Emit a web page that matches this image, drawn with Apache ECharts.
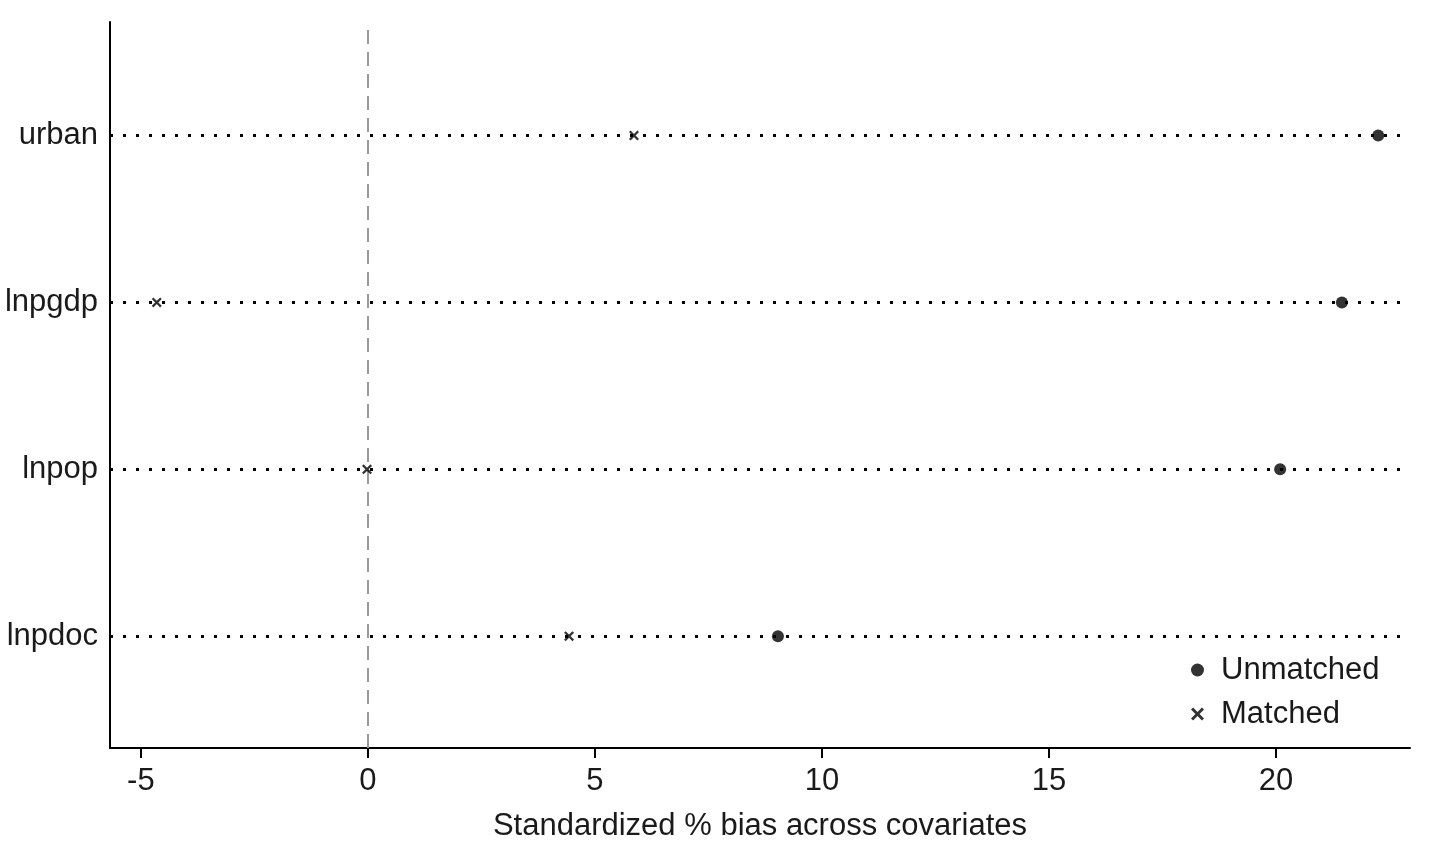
<!DOCTYPE html>
<html><head><meta charset="utf-8">
<script src="https://cdn.jsdelivr.net/npm/echarts@6/dist/echarts.min.js"></script>
<style>html,body{margin:0;padding:0;background:#fff}#c{width:1429px;height:854px}</style>
</head><body><div id="c"></div>
<script>
var categories = ['lnpdoc', 'lnpop', 'lnpgdp', 'urban'];
var unmatched = [9.03, 20.09, 21.45, 22.25];
var matched = [4.43, -0.02, -4.65, 5.86];
var xTicks = [-5, 0, 5, 10, 15, 20];
var xTitle = 'Standardized % bias across covariates';

var FONT = 'Liberation Sans, Arial, sans-serif';
var crossPath = 'path://M0,1.6 L1.6,0 L5,3.4 L8.4,0 L10,1.6 L6.6,5 L10,8.4 L8.4,10 L5,6.6 L1.6,10 L0,8.4 L3.4,5 Z';
var yPos = categories.map(function (c, i) { return i + 1; });

var chart = echarts.init(document.getElementById('c'));
chart.setOption({
  backgroundColor: '#fff',
  animation: false,
  grid: { left: 110, right: 19, top: 22, bottom: 106, containLabel: false },
  xAxis: {
    type: 'value', min: -5.68, max: 22.95,
    name: xTitle, nameLocation: 'middle', nameGap: 63,
    nameTextStyle: { fontFamily: FONT, fontSize: 31, color: '#1a1a1a' },
    axisLine: { show: true, onZero: false, lineStyle: { color: '#000', width: 2 } },
    axisTick: { show: true, length: 10, lineStyle: { color: '#000', width: 2 }, customValues: xTicks },
    axisLabel: { fontFamily: FONT, fontSize: 31, color: '#1a1a1a', margin: 18, customValues: xTicks },
    splitLine: { show: false }
  },
  yAxis: {
    type: 'value', min: 0.33, max: 4.68,
    axisLine: { show: true, onZero: false, lineStyle: { color: '#000', width: 2 } },
    axisTick: { show: false },
    axisLabel: {
      fontFamily: FONT, fontSize: 31, color: '#1a1a1a', margin: 12,
      customValues: yPos,
      formatter: function (v) { return categories[Math.round(v) - 1] || ''; }
    },
    splitLine: { show: false }
  },
  legend: {
    orient: 'vertical', left: 1186, top: 649,
    itemWidth: 13, itemHeight: 13, itemGap: 12,
    textStyle: { fontFamily: FONT, fontSize: 31, color: '#1a1a1a', lineHeight: 32, padding: [0, 0, 0, 12] },
    data: [
      { name: 'Unmatched', icon: 'circle' },
      { name: 'Matched', icon: crossPath, itemStyle: { color: '#000' } }
    ]
  },
  series: [
    {
      name: 'Unmatched', type: 'scatter', symbol: 'circle', symbolSize: 12,
      itemStyle: { color: '#000' }, z: 5,
      data: unmatched.map(function (v, i) { return [v, yPos[i]]; }),
      markLine: {
        silent: true, symbol: 'none', label: { show: false }, z: 1,
        lineStyle: { color: '#000', type: [3, 10], width: 3 },
        data: yPos.map(function (p) { return { yAxis: p }; })
      }
    },
    {
      name: 'Matched', type: 'scatter', symbol: crossPath, symbolSize: 10,
      itemStyle: { color: '#000' }, z: 5,
      data: matched.map(function (v, i) { return [v, yPos[i]]; }),
      markLine: {
        silent: true, symbol: 'none', label: { show: false }, z: 1,
        lineStyle: { color: '#999', type: [14, 8], width: 2 },
        data: [{ xAxis: 0 }]
      }
    }
  ]
});
</script></body></html>
